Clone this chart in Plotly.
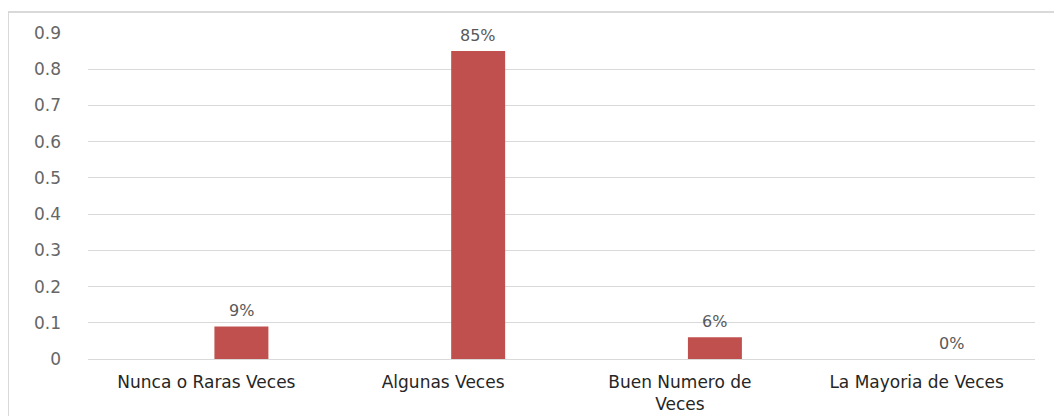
import plotly.graph_objects as go

categories = ["Nunca o Raras Veces", "Algunas Veces", "Buen Numero de<br>Veces", "La Mayoria de Veces"]
values = [0.09, 0.85, 0.06, 0.0]
labels = ["9%", "85%", "6%", "0%"]
tick_vals = [0, 0.1, 0.2, 0.3, 0.4, 0.5, 0.6, 0.7, 0.8, 0.9]
tick_text = ["0", "0.1", "0.2", "0.3", "0.4", "0.5", "0.6", "0.7", "0.8", "0.9"]

# page body adds an 8px offset; size figure accordingly
W, H = 1054, 408
L, R, T, B = 80, 27, 25, 57

BAR_OFFSET = 0.034   # bar sits right of the category centre (as in source)
BAR_WIDTH = 0.228

fig = go.Figure()
fig.add_trace(go.Bar(
    x=categories, y=values,
    marker=dict(color="#c0504d", line=dict(width=0)),
    width=BAR_WIDTH, offset=BAR_OFFSET,
    hoverinfo="skip",
))

for i, (v, t) in enumerate(zip(values, labels)):
    fig.add_annotation(
        x=i + BAR_OFFSET + BAR_WIDTH / 2, y=v, xref="x", yref="y", text=t, showarrow=False,
        yanchor="bottom", yshift=4,
        font=dict(family="DejaVu Sans", size=16, color="#595959"),
    )

pw = W - L - R
ph = H - T - B
fig.add_shape(
    type="rect", xref="paper", yref="paper",
    x0=(0 - L) / pw, x1=(W + 20 - L) / pw,
    y0=-(H + 20 - T - ph) / ph, y1=1 + (T - 4) / ph,
    line=dict(color="#d9d9d9", width=2), fillcolor="rgba(0,0,0,0)", layer="below",
)

fig.update_layout(
    width=W, height=H,
    margin=dict(l=L, r=R, t=T, b=B, pad=0, autoexpand=False),
    paper_bgcolor="white", plot_bgcolor="white",
    showlegend=False,
    xaxis=dict(
        automargin=False,
        showgrid=False, showline=False, zeroline=False, ticks="",
        tickfont=dict(family="DejaVu Sans", size=17, color="#262626"),
        ticklabelstandoff=11,
        range=[-0.5, 3.5],
    ),
    yaxis=dict(
        automargin=False,
        range=[0, 0.9], tickvals=tick_vals, ticktext=tick_text,
        showgrid=True, gridcolor="#d9d9d9", gridwidth=1,
        zeroline=True, zerolinecolor="#d9d9d9", zerolinewidth=1,
        showline=False, ticks="",
        tickfont=dict(family="DejaVu Sans", size=17, color="#666666"),
        ticklabelstandoff=26,
    ),
)

fig.write_html("out.html")
